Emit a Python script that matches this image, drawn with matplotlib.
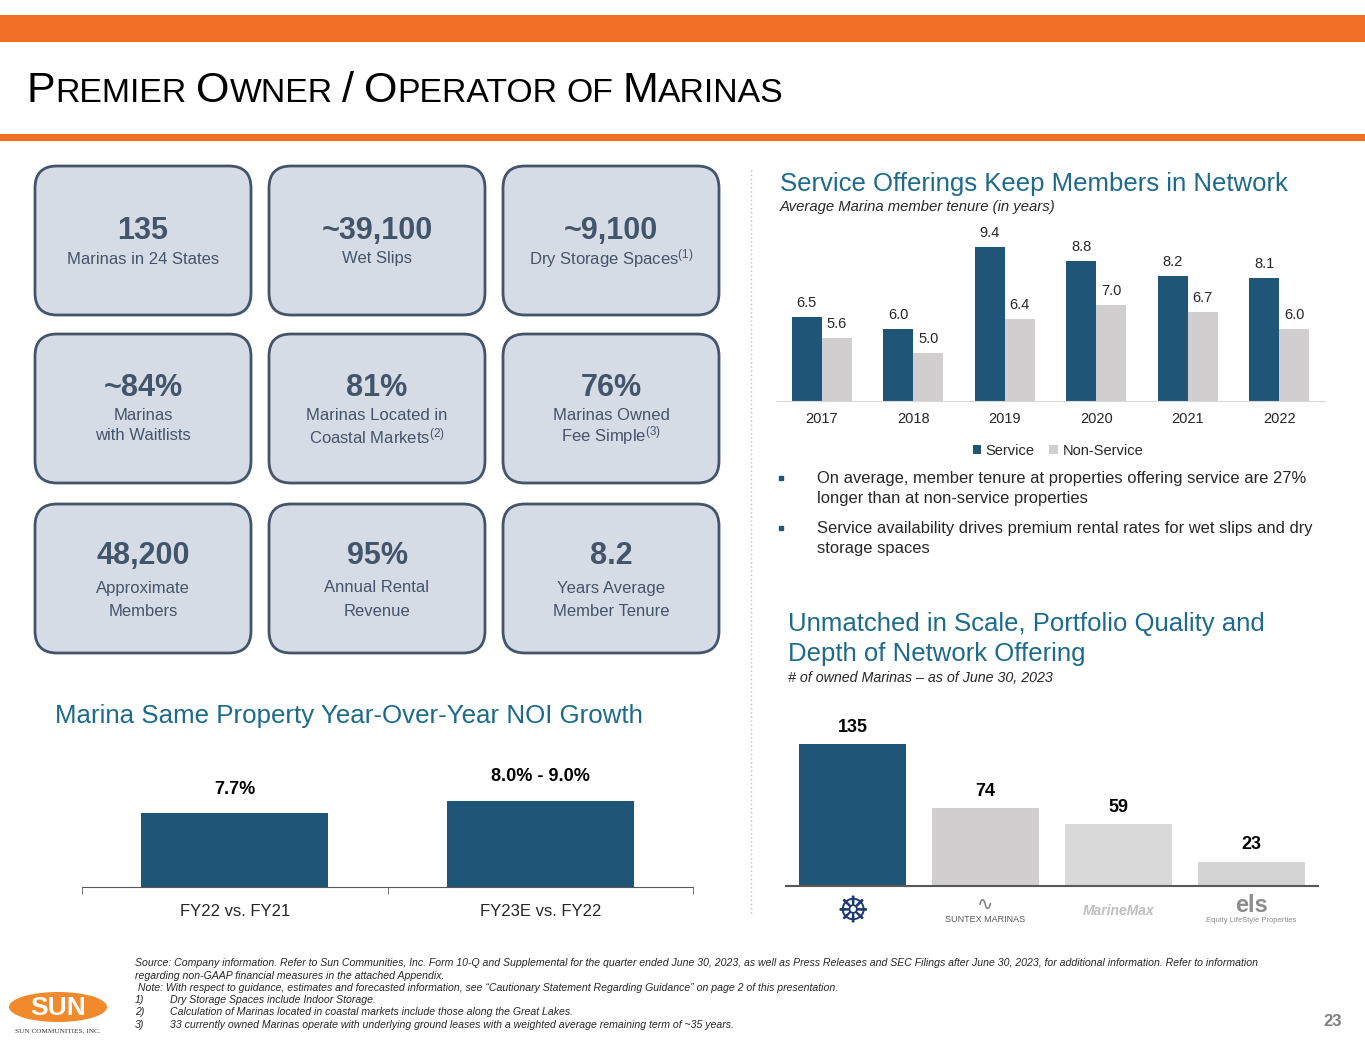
import matplotlib
matplotlib.use("Agg")
import matplotlib.pyplot as plt
from matplotlib.patches import FancyBboxPatch, Ellipse, Rectangle

plt.rcParams['font.family'] = ['Liberation Sans', 'DejaVu Sans']
plt.rcParams['mathtext.fontset'] = 'custom'
plt.rcParams['mathtext.rm'] = 'Liberation Sans'
plt.rcParams['mathtext.it'] = 'Liberation Sans:italic'
plt.rcParams['mathtext.bf'] = 'Liberation Sans:bold'

W, H = 1365, 1055

# ---- donnees ----
tile_values = ["135", "~39,100", "~9,100",
               "~84%", "81%", "76%",
               "48,200", "95%", "8.2"]
tile_labels = [["Marinas in 24 States"], ["Wet Slips"], ["Dry Storage Spaces$^{(1)}$"],
               ["Marinas", "with Waitlists"], ["Marinas Located in", "Coastal Markets$^{(2)}$"],
               ["Marinas Owned", "Fee Simple$^{(3)}$"],
               ["Approximate", "Members"], ["Annual Rental", "Revenue"],
               ["Years Average", "Member Tenure"]]

years = ["2017", "2018", "2019", "2020", "2021", "2022"]
service = [6.5, 6.0, 9.4, 8.8, 8.2, 8.1]
non_service = [5.6, 5.0, 6.4, 7.0, 6.7, 6.0]

noi_periods = ["FY22 vs. FY21", "FY23E vs. FY22"]
noi_growth = [7.7, 9.0]
noi_labels = ["7.7%", "8.0% - 9.0%"]

operators = ["Safe Harbor", "Suntex Marinas", "MarineMax", "Equity LifeStyle Properties"]
marina_counts = [135, 74, 59, 23]

bullets = [["On average, member tenure at properties offering service are 27%",
            "longer than at non-service properties"],
           ["Service availability drives premium rental rates for wet slips and dry",
            "storage spaces"]]

notes = ["Source: Company information. Refer to Sun Communities, Inc. Form 10-Q and Supplemental for the quarter ended June 30, 2023, as well as Press Releases and SEC Filings after June 30, 2023, for additional information. Refer to information",
         "regarding non-GAAP financial measures in the attached Appendix.",
         " Note: With respect to guidance, estimates and forecasted information, see \u201cCautionary Statement Regarding Guidance\u201d on page 2 of this presentation."]
numbered_notes = ["Dry Storage Spaces include Indoor Storage.",
                  "Calculation of Marinas located in coastal markets include those along the Great Lakes.",
                  "33 currently owned Marinas operate with underlying ground leases with a weighted average remaining term of ~35 years."]

# ---- couleurs ----
ORANGE = "#F07125"
NAVY = "#1F5577"
GRAY = "#D0CECE"
TEAL = "#1C6A8C"
SLATE = "#44546A"
TILE = "#D6DCE5"
DARK = "#262626"

fig = plt.figure(figsize=(W / 100, H / 100), dpi=100)
bg = fig.add_axes([0, 0, 1, 1])
bg.set_xlim(0, W)
bg.set_ylim(H, 0)
bg.axis("off")


def px_axes(x0, y0, x1, y1):
    return fig.add_axes([x0 / W, 1 - y1 / H, (x1 - x0) / W, (y1 - y0) / H])


# bandeaux
bg.add_patch(Rectangle((0, 15), W, 27, color=ORANGE, lw=0))
bg.add_patch(Rectangle((0, 134), W, 7, color=ORANGE, lw=0))

# titre en petites capitales
renderer = fig.canvas.get_renderer()
big, small = 28, 22
pieces = [("P", big), ("REMIER", small), (" ", small), ("O", big), ("WNER", small), (" ", small),
          ("/", big), (" ", small), ("O", big), ("PERATOR", small), (" ", small), ("OF", small),
          (" ", small), ("M", big), ("ARINAS", small)]


def draw_title(scale):
    x = 27
    arts = []
    for s, size in pieces:
        if s == " ":
            x += 0.278 * size * scale * 100 / 72
            continue
        t = bg.text(x, 102, s, fontsize=size * scale, color="black", va="baseline", ha="left")
        arts.append(t)
        x += t.get_window_extent(renderer).width
    return x, arts


end, arts = draw_title(1.0)
for a in arts:
    a.remove()
end, arts = draw_title((783 - 27) / (end - 27))

# tuiles
col_x = [35, 269, 503]
row_y = [166, 334, 504]
big_off = [65, 54, 52]
sub_off = [[93], [81, 102], [84, 107]]
for i, (val, lab) in enumerate(zip(tile_values, tile_labels)):
    r, c = divmod(i, 3)
    x0, y0 = col_x[c], row_y[r]
    bg.add_patch(FancyBboxPatch((x0, y0), 216, 149, boxstyle="round,pad=0,rounding_size=22",
                                fc=TILE, ec=SLATE, lw=2))
    cx = x0 + 108
    bg.text(cx, y0 + big_off[r], val, fontsize=22, fontweight="bold", color=SLATE,
            ha="center", va="center")
    for line, off in zip(lab, sub_off[r]):
        bg.text(cx, y0 + off, line, fontsize=12, color=SLATE, ha="center", va="center")

# separateur
bg.plot([751, 751], [170, 915], color="#BFBFBF", lw=1, ls=(0, (1, 2)))

# ---- graphique service ----
bg.text(780, 184, "Service Offerings Keep Members in Network", fontsize=18.5, color=TEAL,
        ha="left", va="center")
bg.text(780, 207, "Average Marina member tenure (in years)", fontsize=10.7, style="italic",
        color=DARK, ha="left", va="center")

ax1 = px_axes(776, 225, 1325, 401)
xs = range(len(years))
bw = 0.33
b1 = ax1.bar([x - bw / 2 for x in xs], service, bw, color=NAVY, label="Service")
b2 = ax1.bar([x + bw / 2 for x in xs], non_service, bw, color=GRAY, label="Non-Service")
for bars, vals in ((b1, service), (b2, non_service)):
    for b, v in zip(bars, vals):
        ax1.annotate(f"{v:.1f}", (b.get_x() + b.get_width() / 2, v), xytext=(0, 5),
                     textcoords="offset points", ha="center", va="bottom", fontsize=10.5, color=DARK)
ax1.set_xlim(-0.5, 5.5)
ax1.set_ylim(3, 3 + 176 / 24.1)
ax1.set_xticks(list(xs))
ax1.set_xticklabels(years, fontsize=10.5, color=DARK)
ax1.tick_params(axis="x", length=0, pad=8)
ax1.set_yticks([])
for s in ("top", "right", "left"):
    ax1.spines[s].set_visible(False)
ax1.spines["bottom"].set_color("#D9D9D9")
ax1.patch.set_alpha(0)
ax1.legend(loc="center", bbox_to_anchor=(1058 / W, 1 - 451 / H), bbox_transform=fig.transFigure,
           ncol=2, frameon=False, fontsize=10.5, handlelength=0.6, handleheight=0.6,
           handletextpad=0.3, columnspacing=1.0, labelcolor=DARK)

# puces
for (l1, l2), y in zip(bullets, [478, 528]):
    bg.plot(781, y, marker="s", ms=3.5, color=NAVY, ls="none")
    bg.text(817, y, l1, fontsize=11.9, color=DARK, ha="left", va="center")
    bg.text(817, y + 20, l2, fontsize=11.9, color=DARK, ha="left", va="center")

# ---- graphique operateurs ----
bg.text(788, 624, "Unmatched in Scale, Portfolio Quality and", fontsize=18.5, color=TEAL,
        ha="left", va="center")
bg.text(788, 654, "Depth of Network Offering", fontsize=18.5, color=TEAL, ha="left", va="center")
bg.text(788, 678, "# of owned Marinas \u2013 as of June 30, 2023", fontsize=10.3, style="italic",
        color=DARK, ha="left", va="center")

ax2 = px_axes(786, 720, 1318, 886)
ox = range(len(operators))
bars = ax2.bar(list(ox), marina_counts, 0.8, color=[NAVY, "#D0CECE", "#D9D9D9", "#D4D4D4"])
for b, v in zip(bars, marina_counts):
    ax2.annotate(str(v), (b.get_x() + b.get_width() / 2, v), xytext=(0, 6),
                 textcoords="offset points", ha="center", va="bottom", fontsize=13,
                 fontweight="bold", color="black")
ax2.set_xlim(-0.5, 3.5)
ax2.set_ylim(0, 166 / 1.052)
ax2.set_xticks([])
ax2.set_yticks([])
for s in ("top", "right", "left"):
    ax2.spines[s].set_visible(False)
ax2.spines["bottom"].set_color("#595959")
ax2.spines["bottom"].set_linewidth(1.5)
ax2.patch.set_alpha(0)
tr = ax2.get_xaxis_transform()
ax2.text(0, -0.16, "\u2638", transform=tr, fontsize=26, color="#1B3B6F", ha="center",
         va="center", family="DejaVu Sans")
ax2.text(1, -0.11, "\u223F", transform=tr, fontsize=14, color="#7F7F7F", ha="center", va="center",
         family="DejaVu Sans")
ax2.text(1, -0.2, "SUNTEX MARINAS", transform=tr, fontsize=6.5, color="#595959", ha="center",
         va="center")
ax2.text(2, -0.15, "MarineMax", transform=tr, fontsize=10, color="#BFBFBF", ha="center",
         va="center", style="italic", fontweight="bold")
ax2.text(3, -0.12, "els", transform=tr, fontsize=17, color="#8C8C8C", ha="center", va="center",
         fontweight="bold")
ax2.text(3, -0.21, "Equity LifeStyle Properties", transform=tr, fontsize=5.5, color="#8C8C8C",
         ha="center", va="center")

# ---- graphique NOI ----
bg.text(55, 716, "Marina Same Property Year-Over-Year NOI Growth", fontsize=18.6, color=TEAL,
        ha="left", va="center")
ax3 = px_axes(82, 760, 693, 887)
nb = ax3.bar(range(len(noi_periods)), noi_growth, 0.612, color=NAVY)
for b, v, lab in zip(nb, noi_growth, noi_labels):
    ax3.annotate(lab, (b.get_x() + b.get_width() / 2, v), xytext=(0, 11),
                 textcoords="offset points", ha="center", va="bottom", fontsize=13,
                 fontweight="bold", color="black")
ax3.set_xlim(-0.5, 1.5)
ax3.set_ylim(0, 127 / 9.6)
ax3.set_xticks(range(len(noi_periods)))
ax3.set_xticklabels(noi_periods, fontsize=12, color=DARK)
ax3.set_xticks([-0.5, 0.5, 1.5], minor=True)
ax3.tick_params(axis="x", which="major", length=0, pad=12)
ax3.tick_params(axis="x", which="minor", length=5, direction="out", color="#595959")
ax3.set_yticks([])
for s in ("top", "right", "left"):
    ax3.spines[s].set_visible(False)
ax3.spines["bottom"].set_color("#595959")
ax3.patch.set_alpha(0)

# ---- notes ----
for txt, y in zip(notes, [963, 976, 988]):
    bg.text(135, y, txt, fontsize=7.6, style="italic", color=DARK, ha="left", va="center")
for k, (txt, y) in enumerate(zip(numbered_notes, [1000, 1012, 1025])):
    bg.text(135, y, f"{k + 1})", fontsize=7.6, style="italic", color=DARK, ha="left", va="center")
    bg.text(170, y, txt, fontsize=7.6, style="italic", color=DARK, ha="left", va="center")

# logo SUN
bg.add_patch(Ellipse((58, 1007), 98, 30, color="#F08A2C", lw=0))
bg.text(58, 1008, "SUN", fontsize=19, fontweight="bold", color="white", ha="center",
        va="center")
bg.text(58, 1031, "SUN COMMUNITIES, INC.", fontsize=5.2, family="Liberation Serif",
        color="#333333", ha="center", va="center")

# numero de page
bg.text(1333, 1022, "23", fontsize=12, fontweight="bold", color="#7F7F7F", ha="center",
        va="center")

fig.savefig("out.png", dpi=100)
